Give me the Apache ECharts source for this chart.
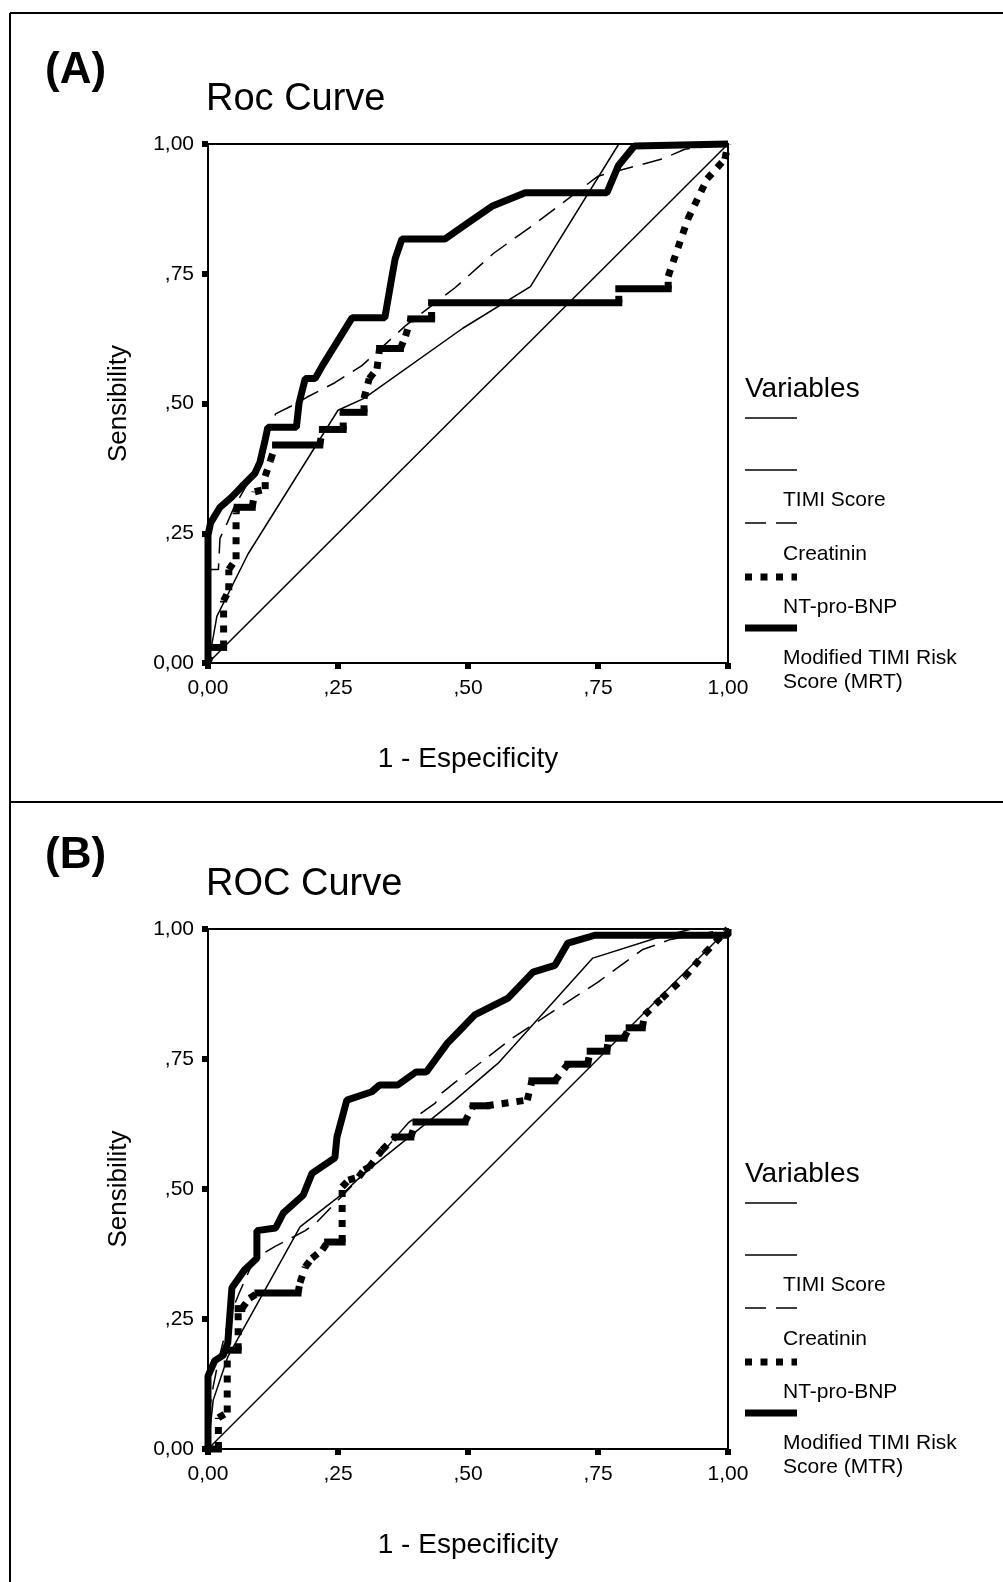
<!DOCTYPE html>
<html>
<head>
<meta charset="utf-8">
<script src="https://cdn.jsdelivr.net/npm/echarts/dist/echarts.min.js"></script>
<style>
  html, body { margin: 0; padding: 0; background: #fff; }
  #chart { width: 1003px; height: 1582px; }
</style>
</head>
<body>
<div id="chart"></div>
<script>
// tick labels (SPSS style, comma decimals)
const xTickLabels = ['0,00', ',25', ',50', ',75', '1,00'];
const yTickLabels = ['0,00', ',25', ',50', ',75', '1,00'];

// reference diagonal
const refLine = [[0, 0], [1, 1]];

// panel A: [1 - specificity, sensitivity]
const timiA = [[0, 0], [0.01, 0.05], [0.017, 0.09], [0.077, 0.21], [0.25, 0.487], [0.30, 0.51],
  [0.49, 0.645], [0.62, 0.725], [0.79, 1], [1, 1]];
const creatA = [[0, 0], [0, 0.18], [0.02, 0.18], [0.023, 0.24], [0.037, 0.27], [0.05, 0.30],
  [0.09, 0.37], [0.13, 0.48], [0.17, 0.50], [0.19, 0.512], [0.244, 0.54], [0.296, 0.573],
  [0.38, 0.65], [0.475, 0.723], [0.55, 0.79], [0.623, 0.842], [0.75, 0.938], [0.873, 0.971],
  [0.917, 0.99], [1, 1]];
const ntA = [[0, 0], [0.01, 0.03], [0.03, 0.03], [0.03, 0.12], [0.04, 0.14], [0.04, 0.18],
  [0.054, 0.2], [0.054, 0.29], [0.056, 0.30], [0.085, 0.30], [0.09, 0.33], [0.11, 0.335],
  [0.11, 0.36], [0.12, 0.39], [0.13, 0.42], [0.215, 0.42], [0.22, 0.45], [0.26, 0.45],
  [0.26, 0.483], [0.30, 0.483], [0.30, 0.51], [0.31, 0.548], [0.325, 0.567], [0.33, 0.606],
  [0.37, 0.606], [0.38, 0.63], [0.39, 0.663], [0.43, 0.663], [0.43, 0.694], [0.79, 0.694],
  [0.79, 0.721], [0.885, 0.721], [0.885, 0.745], [0.923, 0.856], [0.96, 0.933], [0.994, 0.971],
  [1, 1]];
const mtrA = [[0, 0], [0, 0.246], [0.005, 0.27], [0.023, 0.30], [0.046, 0.32], [0.065, 0.34],
  [0.09, 0.365], [0.10, 0.387], [0.11, 0.43], [0.115, 0.454], [0.17, 0.454], [0.175, 0.50],
  [0.187, 0.548], [0.206, 0.548], [0.22, 0.573], [0.277, 0.665], [0.34, 0.665], [0.354, 0.746],
  [0.36, 0.779], [0.373, 0.817], [0.456, 0.817], [0.5, 0.848], [0.546, 0.88], [0.61, 0.906],
  [0.767, 0.906], [0.789, 0.958], [0.82, 0.996], [1, 1]];

// panel B
const timiB = [[0, 0], [0.01, 0.094], [0.038, 0.177], [0.177, 0.427], [0.258, 0.49], [0.30, 0.53],
  [0.475, 0.671], [0.558, 0.742], [0.74, 0.944], [0.87, 0.985], [0.93, 1], [1, 1]];
const creatB = [[0, 0], [0, 0.06], [0.01, 0.12], [0.02, 0.17], [0.04, 0.25], [0.06, 0.30],
  [0.08, 0.345], [0.096, 0.37], [0.13, 0.39], [0.187, 0.42], [0.21, 0.437], [0.235, 0.463],
  [0.30, 0.53], [0.385, 0.627], [0.41, 0.646], [0.437, 0.665], [0.45, 0.685], [0.475, 0.705],
  [0.585, 0.79], [0.667, 0.844], [0.75, 0.898], [0.835, 0.96], [0.89, 0.98], [1, 1]];
const ntB = [[0, 0], [0.02, 0], [0.02, 0.06], [0.037, 0.07], [0.037, 0.19], [0.058, 0.19],
  [0.058, 0.27], [0.065, 0.27], [0.08, 0.29], [0.096, 0.30], [0.173, 0.30], [0.177, 0.32],
  [0.187, 0.35], [0.2, 0.367], [0.22, 0.383], [0.23, 0.398], [0.258, 0.398], [0.258, 0.504],
  [0.27, 0.517], [0.29, 0.523], [0.30, 0.537], [0.31, 0.542], [0.335, 0.575], [0.36, 0.60],
  [0.39, 0.60], [0.40, 0.629], [0.494, 0.629], [0.51, 0.66], [0.536, 0.66], [0.614, 0.671],
  [0.623, 0.708], [0.667, 0.708], [0.692, 0.74], [0.73, 0.74], [0.735, 0.765], [0.767, 0.765],
  [0.77, 0.79], [0.80, 0.79], [0.81, 0.81], [0.835, 0.81], [0.84, 0.835], [0.873, 0.867],
  [0.917, 0.908], [0.956, 0.954], [1, 1]];
const mtrB = [[0, 0], [0, 0.14], [0.013, 0.17], [0.029, 0.18], [0.038, 0.204], [0.046, 0.31],
  [0.07, 0.344], [0.094, 0.367], [0.094, 0.42], [0.13, 0.425], [0.145, 0.454], [0.183, 0.488],
  [0.2, 0.53], [0.244, 0.56], [0.248, 0.60], [0.267, 0.671], [0.315, 0.687], [0.33, 0.70],
  [0.365, 0.70], [0.40, 0.725], [0.42, 0.725], [0.46, 0.78], [0.494, 0.815], [0.513, 0.835],
  [0.577, 0.867], [0.625, 0.917], [0.667, 0.93], [0.692, 0.973], [0.744, 0.988], [1, 0.988],
  [1, 1]];

const legendNames = ['TIMI Score', 'Creatinin', 'NT-pro-BNP', 'Modified TIMI Risk'];

const FONT = "'Liberation Sans', Arial, sans-serif";
const chart = echarts.init(document.getElementById('chart'));

const panels = [
  { tag: '(A)', title: 'Roc Curve', last: 'Score (MRT)', dy: 0, top: 144, height: 519,
    timi: timiA, creat: creatA, nt: ntA, mtr: mtrA },
  { tag: '(B)', title: 'ROC Curve', last: 'Score (MTR)', dy: 785, top: 929, height: 520,
    timi: timiB, creat: creatB, nt: ntB, mtr: mtrB }
];

const grids = [], xAxes = [], yAxes = [], series = [], graphics = [];

function txt(x, y, text, size, bold) {
  graphics.push({
    type: 'text', x: x, y: y,
    style: { text: text, fill: '#000', font: (bold ? 'bold ' : '') + size + 'px ' + FONT,
      align: 'left', verticalAlign: 'middle' }
  });
}
function seg(x1, y1, x2, y2, w, dash) {
  graphics.push({
    type: 'line', shape: { x1: x1, y1: y1, x2: x2, y2: y2 },
    style: { stroke: '#000', lineWidth: w, lineDash: dash || null }
  });
}

// SPSS restarts the dot pattern on every step, so flat runs come out solid
function renderStep(params, api) {
  const a = api.coord([api.value(0), api.value(1)]);
  const b = api.coord([api.value(2), api.value(3)]);
  const flat = Math.abs(a[1] - b[1]) < 0.5;
  return {
    type: 'line',
    shape: { x1: a[0], y1: a[1], x2: b[0], y2: b[1] },
    style: { stroke: '#000', lineWidth: 7, lineDash: flat ? null : [7, 8],
      lineCap: flat ? 'square' : 'butt' }
  };
}

panels.forEach((p, i) => {
  grids.push({ left: 208, top: p.top, width: 520, height: p.height, show: true,
    borderColor: '#000', borderWidth: 2, outerBoundsMode: 'none' });
  const axisCommon = {
    type: 'value', min: 0, max: 1, interval: 0.25, gridIndex: i,
    splitLine: { show: false },
    axisLine: { show: true, onZero: false, lineStyle: { color: '#000', width: 2 } },
    axisTick: { show: true, length: 6, lineStyle: { color: '#000', width: 6 } },
    nameLocation: 'middle'
  };
  xAxes.push(Object.assign({}, axisCommon, {
    name: '1 - Especificity', nameGap: 82,
    nameTextStyle: { color: '#000', fontSize: 28, fontFamily: FONT },
    axisLabel: { color: '#000', fontSize: 21, fontFamily: FONT, margin: 15,
      formatter: v => xTickLabels[Math.round(v / 0.25)] }
  }));
  yAxes.push(Object.assign({}, axisCommon, {
    name: 'Sensibility', nameGap: 76, nameRotate: 90,
    nameTextStyle: { color: '#000', fontSize: 26, fontFamily: FONT },
    axisLabel: { color: '#000', fontSize: 21, fontFamily: FONT, margin: 14,
      formatter: v => yTickLabels[Math.round(v / 0.25)] }
  }));
  const base = { type: 'line', xAxisIndex: i, yAxisIndex: i, showSymbol: false, symbol: 'none',
    clip: false, silent: true };
  series.push(Object.assign({}, base, { data: refLine, lineStyle: { color: '#000', width: 1.5 } }));
  series.push(Object.assign({}, base, { data: p.timi, lineStyle: { color: '#000', width: 1.5 } }));
  series.push(Object.assign({}, base, { data: p.creat,
    lineStyle: { color: '#000', width: 1.5, type: [20, 10] } }));
  series.push({
    type: 'custom', xAxisIndex: i, yAxisIndex: i, clip: false, silent: true,
    renderItem: renderStep,
    encode: { x: [0, 2], y: [1, 3] },
    data: p.nt.slice(1).map((pt, k) => [p.nt[k][0], p.nt[k][1], pt[0], pt[1]])
  });
  series.push(Object.assign({}, base, { data: p.mtr, lineStyle: { color: '#000', width: 7 } }));

  // panel headings
  txt(45, 71 + p.dy, p.tag, 44, true);
  txt(206, 100 + p.dy, p.title, 38);

  // legend block
  const d = p.dy;
  txt(745, 389 + d, 'Variables', 28);
  seg(745, 418 + d, 797, 418 + d, 1.5);
  seg(745, 470 + d, 797, 470 + d, 1.5);
  txt(783, 500 + d, legendNames[0], 21);
  seg(745, 523 + d, 797, 523 + d, 1.5, [21, 10]);
  txt(783, 554 + d, legendNames[1], 21);
  seg(745, 577 + d, 797, 577 + d, 7, [7, 8.5]);
  txt(783, 607 + d, legendNames[2], 21);
  seg(745, 628 + d, 797, 628 + d, 7);
  txt(783, 658 + d, legendNames[3], 21);
  txt(783, 682 + d, p.last, 21);
});

// outer frame and divider
seg(10, 13, 1003, 13, 2);
seg(10, 13, 10, 1582, 2);
seg(10, 802, 1003, 802, 2);

chart.setOption({
  animation: false,
  backgroundColor: '#fff',
  grid: grids,
  xAxis: xAxes,
  yAxis: yAxes,
  series: series,
  graphic: graphics
});
</script>
</body>
</html>
